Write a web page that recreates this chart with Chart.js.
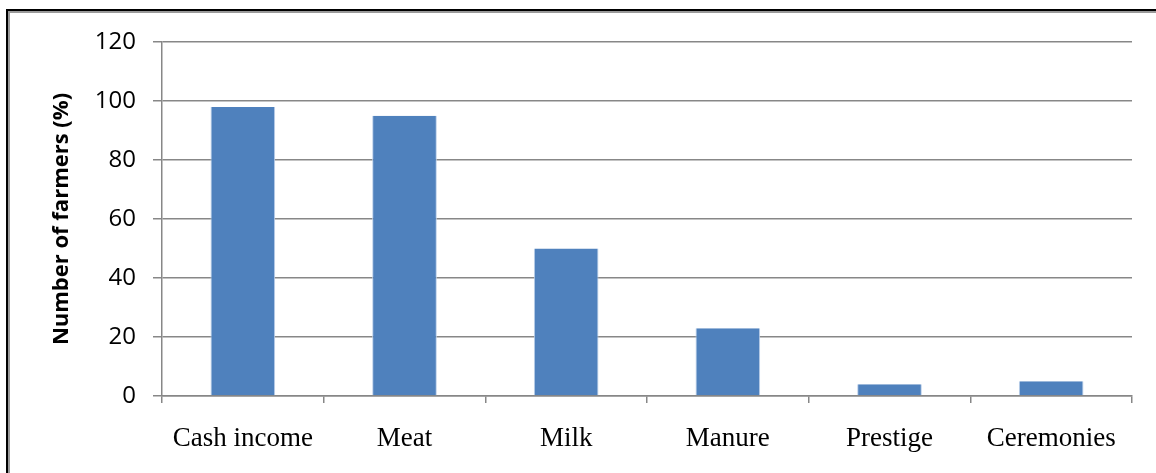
<!DOCTYPE html>
<html lang="en">
<head>
<meta charset="UTF-8">
<title>Number of farmers</title>
<style>
    body { margin: 0; background: #fff; }
    #wrap { position: relative; width: 1156px; height: 473px; overflow: hidden; }
    #frame {
        position: absolute; left: 6px; top: 9px; width: 1300px; height: 600px;
        border-top: 2px solid #000; border-left: 2px solid #000;
        box-shadow: inset 2px 2px 0 #9a9a9a;
    }
    canvas { position: absolute; left: 0; top: 0; }
</style>
</head>
<body>
<div id="wrap">
    <div id="frame"></div>
    <canvas id="chart" width="1156" height="473"></canvas>
</div>
<script src="https://cdn.jsdelivr.net/npm/chart.js"></script>
<script>
// data
const categories = ['Cash income', 'Meat', 'Milk', 'Manure', 'Prestige', 'Ceremonies'];
const farmers = [98, 95, 50, 23, 4, 5];
const yTicks = [0, 20, 40, 60, 80, 100, 120];

const gray = '#878787';

new Chart(document.getElementById('chart'), {
    type: 'bar',
    data: {
        labels: categories,
        datasets: [{
            data: farmers,
            backgroundColor: '#4f81bd',
            borderColor: '#bcd0ea',
            borderWidth: { right: 1, left: 1, top: 0, bottom: 0 },
            barPercentage: 0.4,
            categoryPercentage: 1.0
        }]
    },
    options: {
        responsive: false,
        animation: false,
        layout: { padding: { left: 0, right: 24, top: 42, bottom: 0 } },
        plugins: { legend: { display: false }, tooltip: { enabled: false } },
        scales: {
            x: {
                afterFit: s => { s.height = 77; },
                grid: { drawOnChartArea: false, drawTicks: true, tickLength: 7, color: gray, lineWidth: 1.5 },
                border: { display: true, color: gray, width: 1.5 },
                ticks: {
                    color: '#000',
                    padding: 20,
                    font: { family: '"Liberation Serif", "Times New Roman", serif', size: 27 }
                }
            },
            y: {
                min: 0,
                max: 120,
                afterFit: s => { s.width = 162; },
                afterBuildTicks: s => { s.ticks = yTicks.map(v => ({ value: v })); },
                grid: { color: gray, lineWidth: 1.5, tickLength: 9 },
                border: { display: true, color: gray, width: 1.5 },
                ticks: {
                    color: '#000',
                    padding: 17,
                    font: { family: '"Open Sans", sans-serif', size: 24 }
                },
                title: {
                    display: true,
                    text: 'Number of farmers (%)',
                    color: '#000',
                    padding: { top: 49, bottom: 0 },
                    font: { family: '"Open Sans", sans-serif', size: 22, weight: 'bold' }
                }
            }
        }
    }
});
</script>
</body>
</html>
